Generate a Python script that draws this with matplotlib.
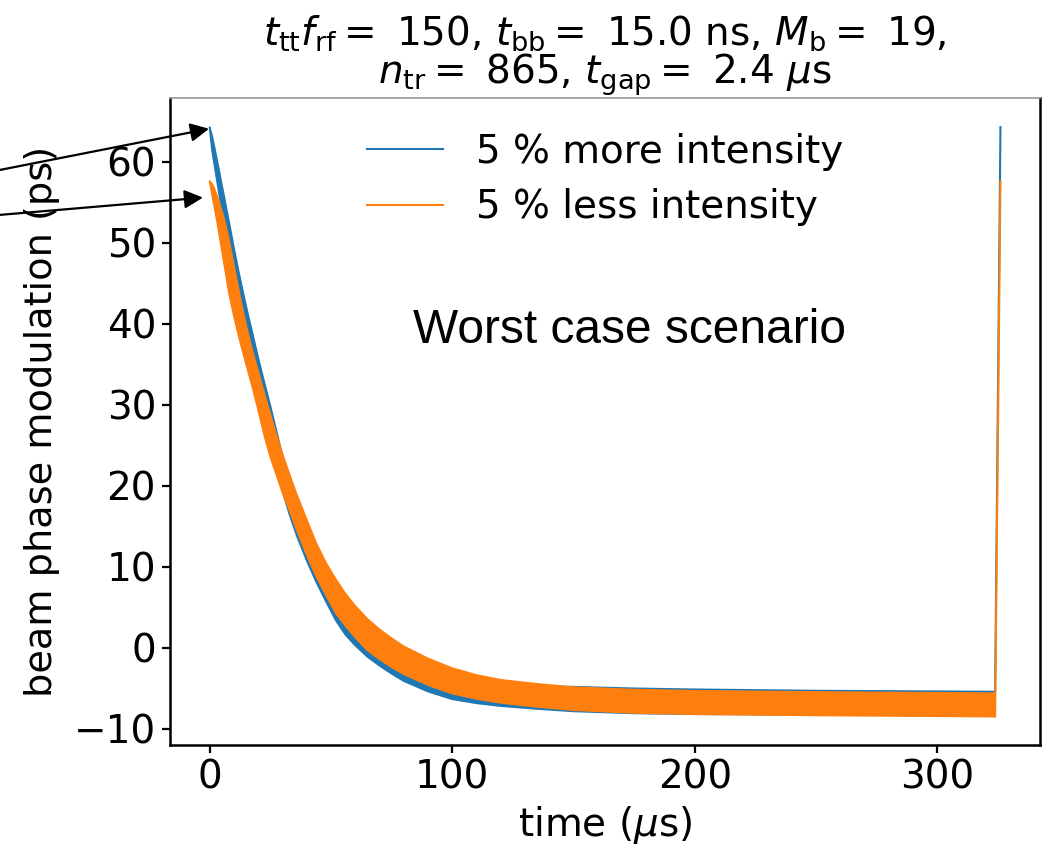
import numpy as np
import matplotlib
matplotlib.use("Agg")
import matplotlib.pyplot as plt

# ---- data ----
t_knots = [0, 1, 2, 3, 4, 5, 6, 8, 10, 12, 14, 16, 18, 20, 22.5, 25, 27.5, 30, 33, 36,
           40, 44, 48, 52, 56, 60, 65, 70, 75, 80, 90, 100, 110, 120, 135, 150, 175,
           200, 250, 300, 323.5]

more_upper = [64.3, 63.3, 61.9, 60.4, 58.9, 57.3, 55.8, 52.7, 49.5, 46.5, 43.7, 41.0,
              38.5, 35.9, 32.9, 30.0, 26.9, 23.8, 20.8, 18.1, 15.0, 12.2, 9.8, 7.8,
              6.0, 4.5, 2.9, 1.5, 0.3, -0.7, -2.2, -3.3, -4.0, -4.4, -4.7, -4.8,
              -5.0, -5.12, -5.28, -5.36, -5.4]
more_lower = [64.3, 61.5, 59.6, 57.8, 55.9, 54.1, 52.2, 48.4, 45.0, 42.1, 39.4, 36.8,
              34.3, 31.7, 28.7, 25.6, 22.5, 19.4, 16.4, 13.8, 10.8, 8.1, 5.7, 3.4,
              1.6, 0.3, -1.1, -2.2, -3.2, -4.1, -5.4, -6.35, -6.85, -7.2, -7.55,
              -7.85, -8.1, -8.2, -8.28, -8.3, -8.32]

less_upper = [57.65, 57.3, 56.7, 55.9, 55.0, 54.0, 53.0, 50.4, 47.3, 44.2, 41.3, 38.7,
              36.3, 34.2, 31.5, 28.9, 26.4, 24.0, 21.4, 18.9, 15.9, 12.9, 10.5, 8.5,
              6.7, 5.2, 3.6, 2.3, 1.2, 0.2, -1.3, -2.5, -3.35, -3.95, -4.45, -4.85,
              -5.15, -5.3, -5.45, -5.55, -5.6]
less_lower = [57.65, 56.0, 54.4, 52.8, 51.0, 49.2, 47.4, 43.8, 41.0, 38.5, 36.2, 34.0,
              31.8, 29.4, 26.3, 23.6, 21.4, 19.2, 16.9, 14.5, 11.5, 8.8, 6.5, 4.3,
              2.7, 1.3, -0.3, -1.4, -2.4, -3.25, -4.6, -5.65, -6.3, -6.8, -7.3,
              -7.7, -8.05, -8.2, -8.35, -8.45, -8.5]

rise_t = [323.8, 326.0]
more_rise = [-5.4, 64.3]
less_rise = [-8.5, 57.65]

labels = ["5 % more intensity", "5 % less intensity"]
colors = ["#1f77b4", "#ff7f0e"]

title = (r"$t_{\rm tt}f_{\rm rf} = $ 150, $t_{\rm bb} = $ 15.0 ns, $M_{\rm b} = $ 19," "\n"
         r"$n_{\rm tr} = $ 865, $t_{\rm gap} = $ 2.4 $\mu$s")

# ---- figure ----
plt.rcParams["font.family"] = ["DejaVu Sans"]
plt.rcParams["mathtext.fontset"] = "dejavusans"

fig = plt.figure(figsize=(10.48, 8.46), dpi=100)
ax = fig.add_axes([170/1048, 1-745/846, 870/1048, 647/846])

series = [(more_upper, more_lower, more_rise), (less_upper, less_lower, less_rise)]
for (up, lo, rise), lab, c in zip(series, labels, colors):
    tt = np.array(t_knots, dtype=float)
    poly_x = np.concatenate([tt, tt[::-1]])
    poly_y = np.concatenate([np.array(up), np.array(lo)[::-1]])
    ax.fill(poly_x, poly_y, color=c, lw=1.2, ec=c, joinstyle="round")
    ax.plot(rise_t, rise, color=c, lw=1.5)
    ax.plot([], [], color=c, lw=1.5, label=lab)

ax.set_xlim(-16.3, 342.3)
ax.set_ylim(-12.0, 67.9)
ax.set_xticks([0, 100, 200, 300])
ax.set_yticks([-10, 0, 10, 20, 30, 40, 50, 60])

fs = 28
ax.tick_params(labelsize=fs, length=6, width=1.6, pad=4)
for s in ["left", "bottom", "right"]:
    ax.spines[s].set_linewidth(1.8)
ax.spines["top"].set_color("#999999")
ax.spines["top"].set_linewidth(1.2)

ax.set_xlabel(r"time ($\mu$s)", fontsize=fs, labelpad=5)
ax.set_ylabel("beam phase modulation (ps)", fontsize=27.5, labelpad=10)
ax.set_title(title, fontsize=28, pad=6, linespacing=0.95)

ax.legend(loc="upper center", bbox_to_anchor=(0.5, 1.0), frameon=False,
          fontsize=fs, handlelength=1.95, handletextpad=0.85, labelspacing=0.45,
          borderaxespad=0.5)

ax.text(0.5276, 0.6414, "Worst case scenario", transform=ax.transAxes,
        fontsize=34.5, family="Liberation Sans", ha="center", va="center")

arrow = dict(arrowstyle="-|>", color="black", lw=1.6, mutation_scale=28,
             shrinkA=0, shrinkB=0)
ax.annotate("", xy=(-0.2, 64.1), xytext=(-100, 846-189.6),
            textcoords="figure pixels", arrowprops=arrow, annotation_clip=False)
ax.annotate("", xy=(-2.7, 55.6), xytext=(-100, 846-223.4),
            textcoords="figure pixels", arrowprops=arrow, annotation_clip=False)

fig.savefig("out.png", dpi=100)
